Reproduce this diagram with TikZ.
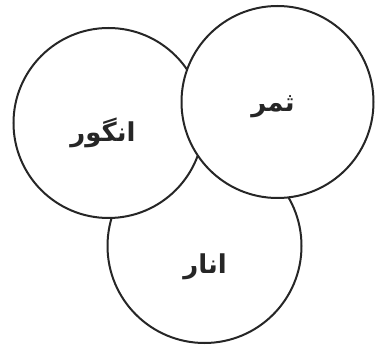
\documentclass[tikz,border=0pt]{standalone}
\usepackage{fontspec}
\newfontfamily\urdufont[Script=Arabic]{DejaVu Sans}
\TeXXeTstate=1
\usetikzlibrary{positioning}
\tikzset{
    % white-filled set circle
    setcircle/.style={
        circle,
        draw=black!85,
        line width=2pt,
        fill=white,
        minimum size=192pt,
        inner sep=0pt
    },
    setlabel/.style={
        font=\urdufont\bfseries\fontsize{26}{30}\selectfont,
        black!85
    }
}
\begin{document}
\begin{tikzpicture}[x=1pt,y=1pt]
    \useasboundingbox (0,0) rectangle (380,348);

    \node[setcircle, minimum size=194pt] (anar) at (204.5,102) {};
    \node[setcircle, minimum size=190pt] (angoor) at (108.5,225) {};
    \node[setcircle, minimum size=192pt] (samar) at (277.5,246) {};

    \node[setlabel] (angoortext) at (103,215) {\beginR انگور\endR};
    \node[setlabel] (samartext) at (273,241) {\beginR ثمر\endR};
    \node[setlabel] (anartext) at (205,81) {\beginR انار\endR};
\end{tikzpicture}
\end{document}
